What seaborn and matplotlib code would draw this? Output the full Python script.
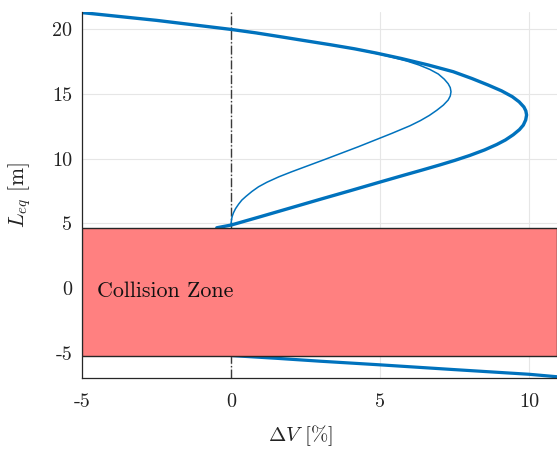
import numpy as np
import pandas as pd
import matplotlib
matplotlib.use("Agg")
import matplotlib.pyplot as plt
import seaborn as sns

# ---- data ----
main_dv = [-5, -2.5, 0, 0.84, 1.64, 2.42, 3.32, 4.14, 4.87, 5.71, 6.61, 7.45, 8.08,
           8.62, 9.07, 9.43, 9.66, 9.82, 9.885, 9.91,
           9.88, 9.8, 9.67, 9.46, 9.2, 8.91, 8.5, 8.0, 7.5, 7.0, 6.4, 5.8, 5.0, 4.0,
           3.0, 2.0, 1.0, 0.0, -0.48]
main_leq = [21.3, 20.7, 20.0, 19.73, 19.44, 19.15, 18.82, 18.5, 18.17, 17.75, 17.25,
            16.73, 16.2, 15.7, 15.25, 14.8, 14.4, 14.0, 13.7, 13.38,
            13.0, 12.6, 12.25, 11.85, 11.45, 11.1, 10.68, 10.25, 9.87, 9.52, 9.12,
            8.73, 8.2, 7.53, 6.87, 6.2, 5.53, 4.87, 4.66]

thin_dv = [0.0, 0.005, 0.02, 0.04, 0.08, 0.15, 0.25, 0.36, 0.5, 0.7, 0.92, 1.2, 1.6,
           2.03, 3.15, 4.27, 5.39, 6.0, 6.35, 6.65, 6.9, 7.12, 7.28, 7.35, 7.375,
           7.35, 7.28, 7.15, 6.95, 6.67, 6.3, 5.9, 5.45, 5.0, 4.14, 3.32, 1.64, 0.0,
           -2.5, -5.0]
thin_leq = [4.9, 5.1, 5.37, 5.56, 5.82, 6.14, 6.48, 6.8, 7.09, 7.47, 7.83, 8.18, 8.6,
            8.99, 9.95, 10.93, 11.96, 12.55, 12.95, 13.35, 13.75, 14.15, 14.54, 14.85,
            15.18, 15.5, 15.8, 16.15, 16.55, 16.9, 17.25, 17.55, 17.82, 18.07, 18.5,
            18.82, 19.44, 20.0, 20.7, 21.3]

low_dv = [0.0, 1.5, 3.0, 5.0, 7.5, 10.0, 10.93]
low_leq = [-5.22, -5.43, -5.66, -5.94, -6.31, -6.67, -6.86]

zone_bottom, zone_top = -5.22, 4.66
x_ticks = [-5, 0, 5, 10]
y_ticks = [-5, 0, 5, 10, 15, 20]

# ---- style ----
sns.set_style("white")
plt.rcParams["font.family"] = ["cmr10", "DejaVu Serif"]
plt.rcParams["mathtext.fontset"] = "cm"
plt.rcParams["axes.unicode_minus"] = False
plt.rcParams["axes.formatter.use_mathtext"] = True
plt.rcParams["lines.solid_joinstyle"] = "round"

blue = "#0072BD"
W, H = 557, 449
fig = plt.figure(figsize=(W / 100, H / 100), dpi=100)
ax = fig.add_axes([82 / W, 1 - 378.3 / H, (W - 82) / W, (378.3 - 11.7) / H])

ax.set_xlim(-5, 10.93)
ax.set_ylim(-6.98, 21.37)

ax.grid(True, color="#e6e6e6", lw=0.8, zorder=0)
ax.set_axisbelow(True)

ax.axvline(0, color="#3a3a3a", lw=1.0, ls="-.", zorder=1)

sns.lineplot(x=thin_dv, y=thin_leq, sort=False, estimator=None, ax=ax,
             color=blue, lw=1.1, zorder=2)
sns.lineplot(x=main_dv, y=main_leq, sort=False, estimator=None, ax=ax,
             color=blue, lw=2.4, zorder=2)
sns.lineplot(x=low_dv, y=low_leq, sort=False, estimator=None, ax=ax,
             color=blue, lw=2.3, zorder=2)

ax.axhspan(zone_bottom, zone_top, facecolor="#FF8080", edgecolor="#262626",
           lw=1.0, zorder=3)
ax.text(-4.5, -0.25, "Collision Zone", fontsize=15.8, va="center", ha="left",
        color="#111111", zorder=4)

ax.set_xticks(x_ticks)
ax.set_xticklabels([str(v) for v in x_ticks])
ax.set_yticks(y_ticks)
ax.set_yticklabels([str(v) for v in y_ticks])
ax.tick_params(direction="in", length=4, width=0.8, colors="#262626",
               labelsize=14.5, labelcolor="#222222")
ax.tick_params(axis="x", pad=11)
ax.tick_params(axis="y", pad=7)

for s in ["top", "right"]:
    ax.spines[s].set_visible(False)
for s in ["left", "bottom"]:
    ax.spines[s].set_color("#262626")
    ax.spines[s].set_linewidth(0.9)

ax.set_xlabel(r"$\Delta V$ [%]", fontsize=15, color="#222222")
ax.xaxis.set_label_coords((300 - 82) / (W - 82), -0.122)
ax.set_ylabel(r"$L_{eq}$ [m]", fontsize=15.5, color="#222222")
ax.yaxis.set_label_coords(-0.103, 0.5)

fig.savefig("out.png", dpi=100)
